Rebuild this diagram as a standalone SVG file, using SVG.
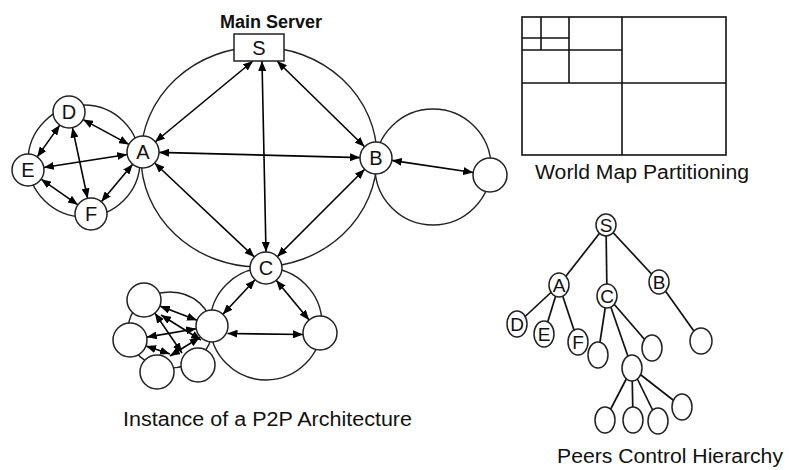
<svg xmlns="http://www.w3.org/2000/svg" width="789" height="470" viewBox="0 0 789 470">
<style>
.cl{fill:none;stroke:#222;stroke-width:1.4}
.nd{fill:#fff;stroke:#222;stroke-width:1.5}
.ar{stroke:#000;stroke-width:1.6;fill:none;marker-start:url(#ah);marker-end:url(#ah)}
.te{stroke:#111;stroke-width:1.7}
.lb{font-family:"Liberation Sans",Arial,sans-serif;font-size:20px;fill:#111;text-anchor:middle}
.tl{font-family:"Liberation Sans",Arial,sans-serif;font-size:19px;fill:#111;text-anchor:middle}
.cap{font-family:"Liberation Sans",Arial,sans-serif;font-size:20px;fill:#111}
.wm{fill:none;stroke:#111;stroke-width:1.6}
</style>
<defs>
<marker id="ah" viewBox="0 0 10 8" refX="10" refY="4" markerWidth="10" markerHeight="8" markerUnits="userSpaceOnUse" orient="auto-start-reverse"><path d="M0,0 L10,4 L0,8 z" fill="#000"/></marker>
</defs>
<rect width="789" height="470" fill="#fff"/>

<g id="clusters">
<ellipse class="cl" cx="259" cy="157" rx="118" ry="110"/>
<circle class="cl" cx="84" cy="161" r="56"/>
<circle class="cl" cx="433" cy="167" r="58"/>
<circle class="cl" cx="266" cy="324" r="56"/>
<ellipse class="cl" cx="170" cy="330" rx="42" ry="38"/>
</g>

<g id="connectors">
<line class="ar" x1="253" y1="61" x2="155" y2="142"/>
<line class="ar" x1="262" y1="61" x2="266" y2="252"/>
<line class="ar" x1="277" y1="61" x2="364.6" y2="146.8"/>
<line class="ar" x1="159" y1="152.4" x2="360" y2="157.6"/>
<line class="ar" x1="154.6" y1="163" x2="254.4" y2="257"/>
<line class="ar" x1="364.7" y1="169.3" x2="277.3" y2="256.7"/>
<line class="ar" x1="391.8" y1="160.4" x2="473.2" y2="172.5"/>
<line class="ar" x1="255.1" y1="279.7" x2="222.9" y2="314.3"/>
<line class="ar" x1="276.2" y1="280.3" x2="309.1" y2="319.9"/>
<line class="ar" x1="227.5" y1="333.5" x2="303" y2="334.5"/>
<line class="ar" x1="83.1" y1="119.6" x2="128.9" y2="144.4"/>
<line class="ar" x1="43.8" y1="167.5" x2="127.2" y2="154.5"/>
<line class="ar" x1="101.3" y1="201.7" x2="132.7" y2="164.3"/>
<line class="ar" x1="59.8" y1="125.1" x2="37.2" y2="156.9"/>
<line class="ar" x1="72.4" y1="127.6" x2="87.6" y2="198.4"/>
<line class="ar" x1="41.1" y1="179.2" x2="77.9" y2="204.8"/>
<line class="ar" x1="159.9" y1="306.1" x2="197" y2="320.3"/>
<line class="ar" x1="146.8" y1="337.1" x2="196.2" y2="328.7"/>
<line class="ar" x1="154.9" y1="313.1" x2="182" y2="353"/>
<line class="ar" x1="146" y1="345.9" x2="170" y2="354"/>
<line class="ar" x1="170" y1="356" x2="199.7" y2="337.5"/>
<line class="ar" x1="161" y1="315" x2="201" y2="340"/>
</g>

<g id="node-S"><rect class="nd" x="234" y="34" width="50" height="27"/><text class="lb" x="259" y="55">S</text></g>
<g id="node-A"><circle class="nd" cx="143" cy="152" r="16"/><text class="lb" x="143" y="159">A</text></g>
<g id="node-B"><circle class="nd" cx="376" cy="158" r="16"/><text class="lb" x="376" y="165">B</text></g>
<g id="node-C"><circle class="nd" cx="266" cy="268" r="16"/><text class="lb" x="266" y="275">C</text></g>
<g id="node-D"><circle class="nd" cx="69" cy="112" r="16"/><text class="lb" x="69" y="119">D</text></g>
<g id="node-E"><circle class="nd" cx="28" cy="170" r="16"/><text class="lb" x="28" y="177">E</text></g>
<g id="node-F"><circle class="nd" cx="91" cy="214" r="16"/><text class="lb" x="91" y="221">F</text></g>
<g id="node-R"><circle class="nd" cx="490" cy="175" r="17"/></g>
<g id="node-M"><circle class="nd" cx="212" cy="326" r="16"/></g>
<g id="node-BR2"><circle class="nd" cx="320" cy="333" r="17"/></g>
<g id="node-TL"><circle class="nd" cx="144" cy="300" r="17"/></g>
<g id="node-LM"><circle class="nd" cx="130" cy="340" r="17"/></g>
<g id="node-BL"><circle class="nd" cx="157" cy="372" r="17"/></g>
<g id="node-BR"><circle class="nd" cx="198" cy="365" r="17"/></g>

<text class="cap" x="271" y="28" text-anchor="middle" style="font-weight:bold;font-size:18px">Main Server</text>
<text class="cap" x="123" y="426" textLength="289" lengthAdjust="spacingAndGlyphs">Instance of a P2P Architecture</text>

<g id="world-map">
<rect class="wm" x="522" y="17" width="204" height="138"/>
<line class="wm" x1="622" y1="17" x2="622" y2="155"/>
<line class="wm" x1="522" y1="83" x2="726" y2="83"/>
<line class="wm" x1="569" y1="17" x2="569" y2="83"/>
<line class="wm" x1="522" y1="50" x2="622" y2="50"/>
<line class="wm" x1="541" y1="17" x2="541" y2="50"/>
<line class="wm" x1="522" y1="38" x2="569" y2="38"/>
</g>
<text class="cap" x="535" y="179" textLength="214" lengthAdjust="spacingAndGlyphs">World Map Partitioning</text>

<g id="tree-edges">
<line class="te" x1="606" y1="225" x2="559" y2="285"/>
<line class="te" x1="606" y1="225" x2="607" y2="296"/>
<line class="te" x1="606" y1="225" x2="659" y2="282"/>
<line class="te" x1="559" y1="285" x2="517" y2="324"/>
<line class="te" x1="559" y1="285" x2="544" y2="334"/>
<line class="te" x1="559" y1="285" x2="578" y2="342"/>
<line class="te" x1="607" y1="296" x2="598" y2="355"/>
<line class="te" x1="607" y1="296" x2="632" y2="368"/>
<line class="te" x1="607" y1="296" x2="652" y2="348"/>
<line class="te" x1="659" y1="282" x2="701" y2="341"/>
<line class="te" x1="632" y1="368" x2="605" y2="420"/>
<line class="te" x1="632" y1="368" x2="633" y2="420"/>
<line class="te" x1="632" y1="368" x2="658" y2="421"/>
<line class="te" x1="632" y1="368" x2="682" y2="407"/>
</g>
<g id="t-S"><ellipse class="nd" cx="606" cy="225" rx="10" ry="11"/><text class="tl" x="606" y="232">S</text></g>
<g id="t-A"><ellipse class="nd" cx="559" cy="285" rx="10" ry="12"/><text class="tl" x="559" y="292">A</text></g>
<g id="t-C"><ellipse class="nd" cx="607" cy="296" rx="10" ry="12"/><text class="tl" x="607" y="303">C</text></g>
<g id="t-B"><ellipse class="nd" cx="659" cy="282" rx="10" ry="12"/><text class="tl" x="659" y="289">B</text></g>
<g id="t-D"><ellipse class="nd" cx="517" cy="324" rx="10" ry="13"/><text class="tl" x="517" y="331">D</text></g>
<g id="t-E"><ellipse class="nd" cx="544" cy="334" rx="10" ry="13"/><text class="tl" x="544" y="341">E</text></g>
<g id="t-F"><ellipse class="nd" cx="578" cy="342" rx="10" ry="13"/><text class="tl" x="578" y="349">F</text></g>
<g id="t-c1"><ellipse class="nd" cx="598" cy="355" rx="10" ry="13"/></g>
<g id="t-c2"><ellipse class="nd" cx="652" cy="348" rx="10" ry="13"/></g>
<g id="t-m"><ellipse class="nd" cx="632" cy="368" rx="10" ry="13"/></g>
<g id="t-b1"><ellipse class="nd" cx="701" cy="341" rx="11" ry="13"/></g>
<g id="t-l1"><ellipse class="nd" cx="605" cy="420" rx="10" ry="13"/></g>
<g id="t-l2"><ellipse class="nd" cx="633" cy="420" rx="10" ry="13"/></g>
<g id="t-l3"><ellipse class="nd" cx="658" cy="421" rx="10" ry="13"/></g>
<g id="t-l4"><ellipse class="nd" cx="682" cy="407" rx="10" ry="13"/></g>
<text class="cap" x="557" y="463" textLength="226" lengthAdjust="spacingAndGlyphs">Peers Control Hierarchy</text>
</svg>
